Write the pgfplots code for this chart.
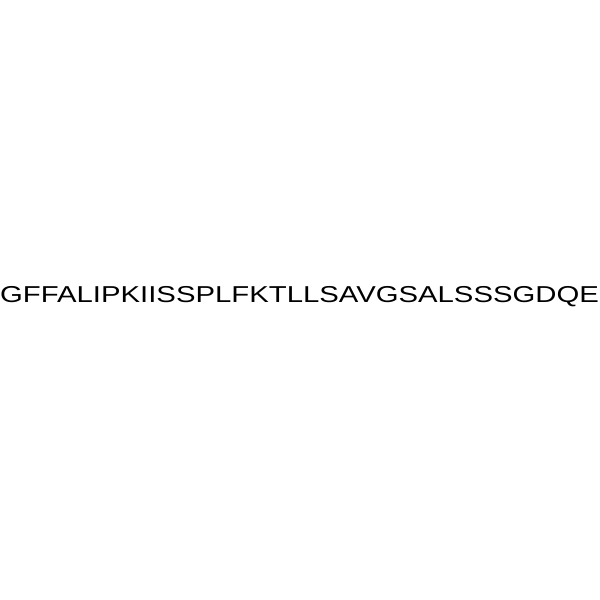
\documentclass[border=0pt]{standalone}
\usepackage{pgfplots}
\pgfplotsset{compat=1.18}
\usepackage{fontspec}
\setmainfont{Liberation Sans}
\begin{document}
\begin{tikzpicture}
\begin{axis}[
    hide axis,
    scale only axis,
    width=600bp, height=600bp,
    xmin=0, xmax=600,
    ymin=0, ymax=600,
    clip=false
]
% keep the full square page
\path (rel axis cs:0,0) rectangle (rel axis cs:1,1);
\node[anchor=base, inner sep=0pt] at (axis cs:299.5,297)
    {\scalebox{1.274}[1]{\fontsize{23bp}{27bp}\selectfont GFFALIPKIISSPLFKTLLSAVGSALSSSGDQE}};
\end{axis}
\end{tikzpicture}
\end{document}
